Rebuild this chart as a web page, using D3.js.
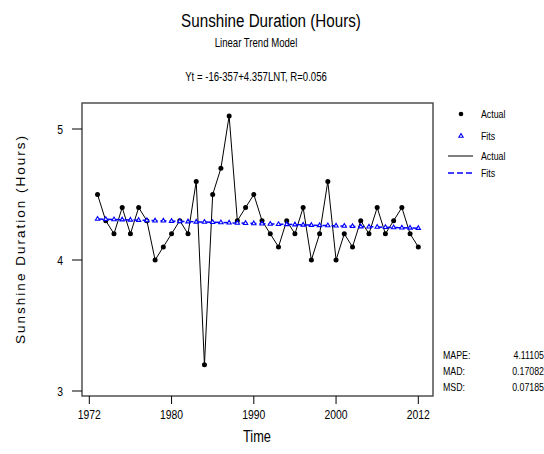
<!DOCTYPE html>
<html>
<head>
<meta charset="utf-8">
<script src="https://cdn.jsdelivr.net/npm/d3@7"></script>
<style>
  body { margin: 0; background: #fff; }
  svg { display: block; }
  text { font-family: "Liberation Sans", Arial, sans-serif; }
</style>
</head>
<body>
<div id="chart"></div>
<script>
// values (index 1..40)
var actual = [4.5, 4.3, 4.2, 4.4, 4.2, 4.4, 4.3, 4.0, 4.1, 4.2,
              4.3, 4.2, 4.6, 3.2, 4.5, 4.7, 5.1, 4.3, 4.4, 4.5,
              4.3, 4.2, 4.1, 4.3, 4.2, 4.4, 4.0, 4.2, 4.6, 4.0,
              4.2, 4.1, 4.3, 4.2, 4.4, 4.2, 4.3, 4.4, 4.2, 4.1];
var fits = [4.313, 4.311, 4.309, 4.308, 4.306, 4.304, 4.302, 4.300, 4.299, 4.297,
            4.295, 4.293, 4.291, 4.290, 4.288, 4.286, 4.284, 4.282, 4.281, 4.279,
            4.277, 4.275, 4.273, 4.272, 4.270, 4.268, 4.266, 4.264, 4.263, 4.261,
            4.259, 4.257, 4.255, 4.254, 4.252, 4.250, 4.248, 4.246, 4.245, 4.243];
var xTickIdx = [0, 10, 20, 30, 40];
var xTickLabels = ["1972", "1980", "1990", "2000", "2012"];
var yTicks = [3, 4, 5];
var statNames = ["MAPE:", "MAD:", "MSD:"];
var statValues = ["4.11105", "0.17082", "0.07185"];

var W = 544, H = 454;
var svg = d3.select("#chart").append("svg")
  .attr("width", W).attr("height", H);

var frame = {left: 82, right: 433, top: 103, bottom: 396};
var SQ = 0.8; // horizontal squeeze to fake a narrow font

var x = d3.scaleLinear().domain([0, 40]).range([89.3, 418.3]);
var y = d3.scaleLinear().domain([3, 5]).range([391, 129]);

// narrow text helper
function ntext(parent, tx, ty, size, anchor, str) {
  return parent.append("text")
    .attr("transform", "translate(" + tx + "," + ty + ") scale(" + SQ + ",1)")
    .attr("text-anchor", anchor)
    .style("font-size", size + "px")
    .text(str);
}

// titles
ntext(svg, 271, 27, 19, "middle", "Sunshine Duration (Hours)");
ntext(svg, 256, 47, 12, "middle", "Linear Trend Model");
ntext(svg, 256, 81, 12, "middle", "Yt = -16-357+4.357LNT, R=0.056");

// frame
svg.append("rect")
  .attr("x", frame.left).attr("y", frame.top)
  .attr("width", frame.right - frame.left).attr("height", frame.bottom - frame.top)
  .attr("fill", "none").attr("stroke", "#444").attr("stroke-width", 1.4);

// y axis
var yAxis = svg.append("g");
yAxis.selectAll("line").data(yTicks).enter().append("line")
  .attr("x1", 72).attr("x2", frame.left)
  .attr("y1", function(d) { return y(d); }).attr("y2", function(d) { return y(d); })
  .attr("stroke", "#000");
yTicks.forEach(function(d) { ntext(yAxis, 63, y(d) + 4.5, 13, "end", d); });

svg.append("text")
  .attr("transform", "translate(25,239) rotate(-90)")
  .attr("text-anchor", "middle")
  .style("font-size", "13.5px").style("letter-spacing", "2px")
  .text("Sunshine Duration (Hours)");

// x axis
var xAxis = svg.append("g");
xAxis.selectAll("line").data(xTickIdx).enter().append("line")
  .attr("x1", function(d) { return x(d); }).attr("x2", function(d) { return x(d); })
  .attr("y1", frame.bottom).attr("y2", 404)
  .attr("stroke", "#000");
xTickIdx.forEach(function(d, i) { ntext(xAxis, x(d), 419, 13, "middle", xTickLabels[i]); });

ntext(svg, 257, 442, 16, "middle", "Time");

// actual line + points
var lineA = d3.line()
  .x(function(d, i) { return x(i + 1); })
  .y(function(d) { return y(d); });
svg.append("path").datum(actual)
  .attr("d", lineA).attr("fill", "none").attr("stroke", "#000").attr("stroke-width", 1);
svg.selectAll(".pt").data(actual).enter().append("circle")
  .attr("class", "pt")
  .attr("cx", function(d, i) { return x(i + 1); })
  .attr("cy", function(d) { return y(d); })
  .attr("r", 2.5).attr("fill", "#000");

// fits line + triangles
svg.append("path").datum(fits)
  .attr("d", lineA).attr("fill", "none").attr("stroke", "#0000ff")
  .attr("stroke-width", 1.5).attr("stroke-dasharray", "6,3");
var tri = d3.symbol().type(d3.symbolTriangle).size(8);
svg.selectAll(".ft").data(fits).enter().append("path")
  .attr("class", "ft")
  .attr("d", tri)
  .attr("transform", function(d, i) { return "translate(" + x(i + 1) + "," + y(d) + ")"; })
  .attr("fill", "#fff").attr("stroke", "#0000ff").attr("stroke-width", 1.1);

// legend
var lg = svg.append("g");
lg.append("circle").attr("cx", 461).attr("cy", 114).attr("r", 2.3).attr("fill", "#000");
lg.append("path").attr("d", tri)
  .attr("transform", "translate(461,136)")
  .attr("fill", "#fff").attr("stroke", "#0000ff").attr("stroke-width", 1.1);
lg.append("line").attr("x1", 448).attr("x2", 473).attr("y1", 156).attr("y2", 156)
  .attr("stroke", "#000");
lg.append("line").attr("x1", 448).attr("x2", 473).attr("y1", 173).attr("y2", 173)
  .attr("stroke", "#0000ff").attr("stroke-width", 1.5).attr("stroke-dasharray", "6,3");
var lgLabels = ["Actual", "Fits", "Actual", "Fits"];
var lgY = [118, 140, 160, 177];
lgLabels.forEach(function(d, i) { ntext(lg, 481, lgY[i], 11, "start", d); });

// accuracy measures
var st = svg.append("g");
statNames.forEach(function(d, i) { ntext(st, 443, 359 + i * 16, 11, "start", d); });
statValues.forEach(function(d, i) { ntext(st, 544, 359 + i * 16, 11, "end", d); });
</script>
</body>
</html>
